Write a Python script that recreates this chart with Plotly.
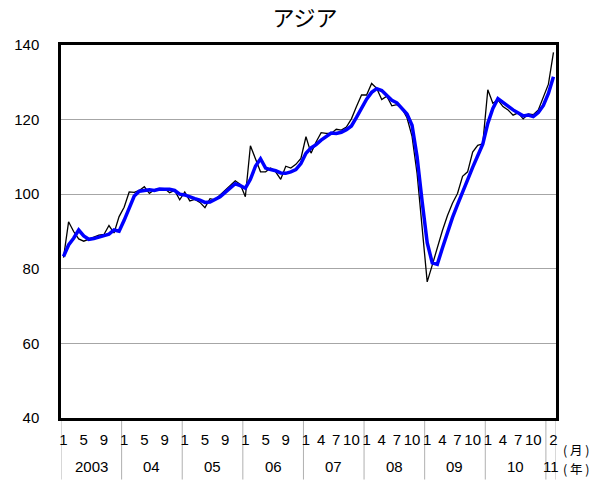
import plotly.graph_objects as go
import pandas as pd

# ---- data ----
dates = pd.date_range("2003-01-01", periods=98, freq="MS")

raw_values = [
    83.0, 92.6, 90.0, 88.0, 87.4, 88.0, 88.5, 89.0, 89.2, 91.6, 89.6, 94.0,          # 2003
    96.5, 100.6, 100.5, 101.0, 102.0, 100.2, 101.2, 101.3, 101.5, 100.4, 101.0, 98.5,  # 2004
    100.6, 98.2, 98.6, 97.8, 96.4, 98.8, 98.5, 99.8, 101.1, 102.5, 103.6, 102.6,     # 2005
    99.3, 113.0, 109.5, 106.0, 106.0, 107.0, 106.0, 104.0, 107.5, 107.0, 108.0, 109.6,  # 2006
    115.4, 111.0, 114.0, 116.5, 116.3, 116.3, 117.4, 117.2, 118.0, 120.2, 123.5, 126.6,  # 2007
    126.6, 129.7, 128.4, 125.4, 126.3, 123.7, 124.0, 123.0, 120.5, 115.5, 105.5, 91.0,   # 2008
    76.5, 81.0, 85.8, 90.2, 94.2, 97.6, 100.2, 104.8, 106.0, 111.3, 113.1, 113.5,        # 2009
    128.0, 124.4, 125.3, 123.5, 122.6, 121.2, 121.8, 120.2, 121.5, 121.3, 122.6, 126.1,  # 2010
    129.5, 138.0,                                                                        # 2011
]

trend_values = [
    83.3, 86.4, 88.2, 90.4, 88.8, 87.9, 88.1, 88.5, 88.8, 89.3, 90.4, 90.1,
    93.0, 96.5, 99.5, 100.8, 101.0, 101.2, 101.0, 101.4, 101.3, 101.3, 101.0, 100.0,
    99.8, 99.2, 98.8, 98.4, 97.8, 97.9, 98.5, 99.3, 100.5, 101.8, 102.8, 102.3,
    101.6, 104.0, 107.5, 109.5, 107.0, 106.6, 106.3, 105.7, 105.6, 106.0, 106.6, 108.2,
    111.0, 112.4, 113.3, 114.5, 115.5, 116.4, 116.3, 116.6, 117.3, 118.3, 120.6, 123.2,
    125.5, 127.3, 128.3, 127.8, 126.6, 125.2, 124.5, 123.1, 121.5, 118.5, 110.0, 98.0,
    87.0, 81.6, 81.2, 85.5, 89.7, 93.7, 97.2, 100.7, 104.0, 107.2, 110.3, 113.4,
    119.0, 123.0, 125.6, 124.5, 123.6, 122.6, 121.7, 121.0, 121.2, 120.8, 121.9, 123.8,
    127.0, 131.5,
]

year_labels = ["2003", "04", "05", "06", "07", "08", "09", "10", "11"]
label_months_by_year = {2003: [1, 5, 9], 2004: [1, 5, 9], 2005: [1, 5, 9], 2006: [1, 5, 9],
                        2007: [1, 4, 7, 10], 2008: [1, 4, 7, 10], 2009: [1, 4, 7, 10],
                        2010: [1, 4, 7, 10], 2011: [2]}
y_ticks = [40, 60, 80, 100, 120, 140]
unit_labels = ["( 月 )", "( 年 )"]

idx = list(range(len(dates)))

month_tickvals = [i for i, d in enumerate(dates) if d.month in label_months_by_year[d.year]]
month_ticktext = [str(dates[i].month) for i in month_tickvals]

FONT = "Arial, 'Liberation Sans', 'Noto Sans CJK JP', sans-serif"
CJK = "'Noto Sans CJK JP', Arial, sans-serif"
FS = 15

fig = go.Figure()
fig.add_trace(go.Scatter(x=idx, y=raw_values, mode="lines",
                         line=dict(color="black", width=1.3), hoverinfo="skip"))
fig.add_trace(go.Scatter(x=idx, y=trend_values, mode="lines",
                         line=dict(color="#0000FF", width=3.5), hoverinfo="skip"))

fig.update_layout(
    width=610, height=484,
    margin=dict(l=61, r=54, t=45, b=66, autoexpand=False),
    plot_bgcolor="white", paper_bgcolor="white",
    showlegend=False,
    font=dict(family=FONT, size=FS, color="black"),
    title=dict(text="アジア", x=0.5, xanchor="center", y=1 - 18 / 484, yanchor="middle",
               font=dict(family=CJK, size=22, color="black")),
)

fig.update_xaxes(
    range=[-0.5, len(dates) - 0.5],
    tickmode="array", tickvals=month_tickvals, ticktext=month_ticktext,
    ticks="", showgrid=False, zeroline=False, automargin=False,
    showline=True, mirror=True, linecolor="black", linewidth=2.5,
    tickfont=dict(family=FONT, size=FS, color="black"),
    ticklabelstandoff=6,
)
fig.update_yaxes(
    range=[40, 140], tickmode="array", tickvals=y_ticks,
    ticks="", showgrid=True, gridcolor="#a6a6a6", gridwidth=1, zeroline=False,
    automargin=False,
    showline=True, mirror=True, linecolor="black", linewidth=2.5,
    tickfont=dict(family=FONT, size=FS, color="black"),
    ticklabelstandoff=16,
)

# year separators and year labels (second category level)
year_starts = [i for i, d in enumerate(dates) if d.month == 1]
bounds = [b - 0.5 for b in year_starts] + [len(dates) - 0.5]
for b in bounds:
    fig.add_shape(type="line", xref="x", yref="paper", x0=b, x1=b, y0=0, y1=-0.165,
                  line=dict(color="#b0b0b0", width=1), layer="below")

for k, lab in enumerate(year_labels):
    center = (bounds[k] + bounds[k + 1]) / 2
    fig.add_annotation(x=center, y=0, xref="x", yref="paper", text=lab, showarrow=False,
                       yanchor="middle", yshift=-48, font=dict(family=FONT, size=FS))

for lab, shift in zip(unit_labels, [-31, -50]):
    fig.add_annotation(x=1, y=0, xref="paper", yref="paper", text=lab,
                       showarrow=False, xanchor="left", xshift=6, yanchor="middle",
                       yshift=shift, borderpad=0, font=dict(family=CJK, size=12.5))

fig.write_html("out.html", config={"displayModeBar": False},
               post_script="document.body.style.margin='0px';")
